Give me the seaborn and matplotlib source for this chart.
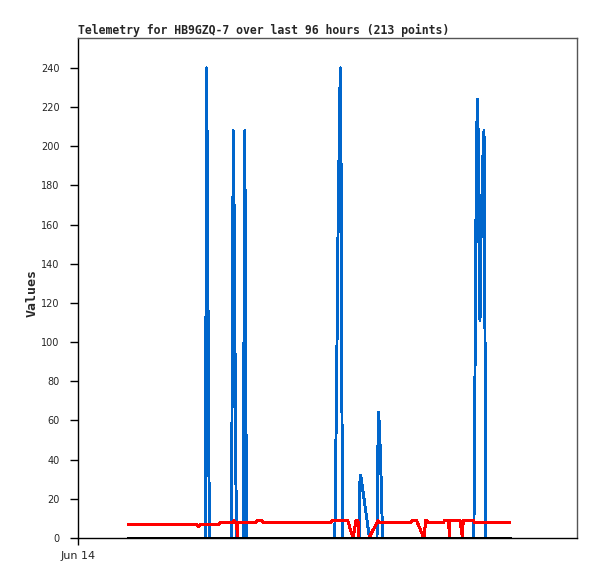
import numpy as np
import pandas as pd
import matplotlib
matplotlib.use("Agg")
import matplotlib.pyplot as plt
import seaborn as sns

# hours since Jun 14 00:00
blue_hours = [12.5, 31.88, 32.12, 32.38, 32.62, 32.88,
              38.38, 38.58, 38.82, 39.08, 39.38, 39.62,
              41.32, 41.5, 41.7, 41.9, 42.12,
              64.2, 64.38, 64.7, 64.95, 65.2, 65.38, 65.58, 65.8, 66.0, 66.22,
              70.32, 70.45, 70.7, 70.95, 72.88,
              74.75, 74.88, 75.12, 75.38, 75.62, 75.88, 76.12,
              98.95, 99.12, 99.32, 99.58, 99.82, 100.05, 100.18, 100.32, 100.5,
              100.7, 100.95, 101.25, 101.5, 101.75, 101.95, 108.0]
blue_values = [0, 0, 240, 180, 60, 0,
               0, 104, 208, 156, 52, 0,
               0, 104, 208, 104, 0,
               0, 30, 88, 147, 185, 217, 240, 180, 60, 0,
               0, 28, 32, 28, 0,
               0, 32, 64, 56, 40, 24, 0,
               0, 36, 112, 188, 224, 206, 168, 130, 111,
               148, 172, 196, 208, 104, 0, 0]

red_hours = [12.5, 29.5, 29.88, 30.25, 30.5, 35.25, 35.75, 38.75, 39.0, 39.25,
             39.7, 39.8, 39.95, 44.5, 45.0, 45.75, 46.25, 63.25, 63.5, 67.42,
             68.75, 69.5, 70.0, 70.18, 72.75, 75.0, 75.38, 83.25, 83.75, 84.62,
             86.45, 86.95, 87.25, 87.5, 91.38, 91.62, 92.7, 92.8, 92.9, 95.5,
             96.12, 96.3, 98.88, 99.12, 108.0]
red_values = [7, 7, 6, 6, 7, 7, 8, 8, 9, 8,
              8, 0, 8, 8, 9, 9, 8, 8, 9, 9,
              0, 9, 9, 0, 0, 9, 8, 8, 9, 9,
              0, 9, 9, 8, 8, 9, 9, 0, 9, 9,
              0, 9, 9, 8, 8]

black_hours = [12.5, 108.0]
black_values = [0, 0]

yticks = list(range(0, 241, 20))
title = "Telemetry for HB9GZQ-7 over last 96 hours (213 points)"

sns.set_style("white")
plt.rcParams['font.family'] = ['DejaVu Sans']

fig = plt.figure(figsize=(5.97, 5.79), dpi=100)
ax = fig.add_axes([78 / 597, 1 - 538 / 579, 499 / 597, 500 / 579])

blue_df = pd.DataFrame({"hours": blue_hours, "value": blue_values})
red_df = pd.DataFrame({"hours": red_hours, "value": red_values})
black_df = pd.DataFrame({"hours": black_hours, "value": black_values})

# GD-style jagged lines: no antialiasing
sns.lineplot(data=blue_df, x="hours", y="value", ax=ax, color="#0066cc",
             linewidth=1.4, estimator=None, sort=False, antialiased=False)
sns.lineplot(data=red_df, x="hours", y="value", ax=ax, color="#ff0000",
             linewidth=1.4, estimator=None, sort=False, antialiased=False)
sns.lineplot(data=black_df, x="hours", y="value", ax=ax, color="#000000",
             linewidth=2.0, estimator=None, sort=False, antialiased=False)

ax.set_xlim(0, 124.75)
ax.set_ylim(0, 255.3)
ax.set_yticks(yticks)
ax.set_yticklabels([str(t) for t in yticks], fontsize=7)
ax.set_xticks([0])
ax.set_xticklabels(["Jun 14"], fontsize=8)
ax.tick_params(axis="y", direction="out", length=5.8, width=1, color="black",
               pad=7.5, left=True)
ax.tick_params(axis="x", direction="out", length=5, width=1, color="black",
               pad=4.5, bottom=True)

for side in ["top", "right"]:
    ax.spines[side].set_color("#555555")
for side in ["left", "bottom"]:
    ax.spines[side].set_color("black")
for sp in ax.spines.values():
    sp.set_linewidth(1)
    sp.set_visible(True)

ax.set_xlabel("")
ax.set_ylabel("Values", fontsize=9.5, fontweight="bold", family="DejaVu Sans Mono",
              labelpad=3)
ax.yaxis.set_label_coords(-0.078, 0.49)
ax.set_title(title, loc="left", fontsize=8.3, fontweight="bold",
             family="DejaVu Sans Mono", pad=3)

fig.savefig("out.png", dpi=100)
